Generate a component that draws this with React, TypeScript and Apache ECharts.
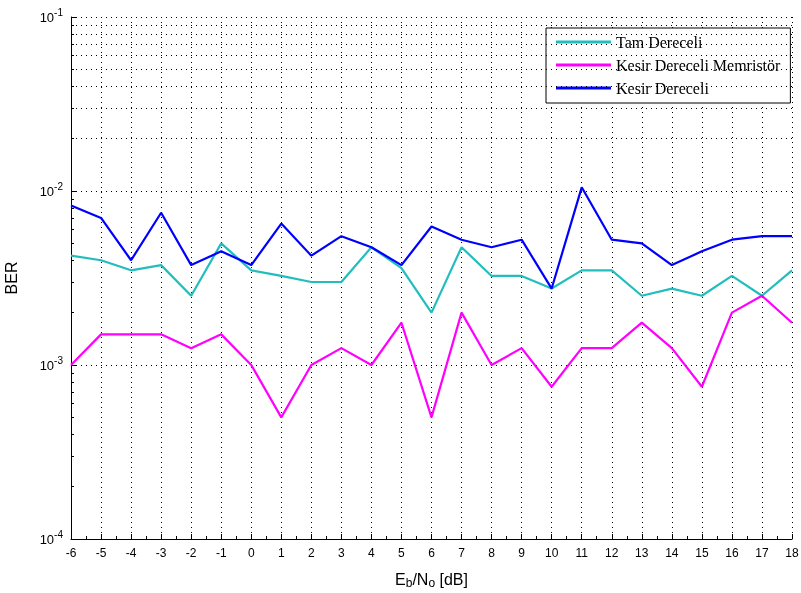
import React, { useEffect, useRef } from "react";
import * as echarts from "echarts";

const ebno = [-6, -5, -4, -3, -2, -1, 0, 1, 2, 3, 4, 5, 6, 7, 8, 9, 10, 11, 12, 13, 14, 15, 16, 17, 18];
const tamDereceli = [0.00425, 0.004, 0.0035, 0.00375, 0.0025, 0.005, 0.0035, 0.00325, 0.003, 0.003, 0.00475, 0.0036, 0.002, 0.00475, 0.00325, 0.00325, 0.00275, 0.0035, 0.0035, 0.0025, 0.00275, 0.0025, 0.00325, 0.0025, 0.0035];
const kesirMemristor = [0.001, 0.0015, 0.0015, 0.0015, 0.00125, 0.0015, 0.001, 0.0005, 0.001, 0.00125, 0.001, 0.00175, 0.0005, 0.002, 0.001, 0.00125, 0.00075, 0.00125, 0.00125, 0.00175, 0.00125, 0.00075, 0.002, 0.0025, 0.00175];
const kesirDereceli = [0.00825, 0.007, 0.004, 0.0075, 0.00375, 0.0045, 0.00375, 0.0065, 0.00425, 0.0055, 0.00475, 0.00375, 0.00625, 0.00525, 0.00475, 0.00525, 0.00275, 0.0105, 0.00525, 0.005, 0.00375, 0.0045, 0.00525, 0.0055, 0.0055];
const seriesNames = ["Tam Dereceli", "Kesir Dereceli Memristör", "Kesir Dereceli"];
const seriesColors = ["#22BEBE", "#FF00FF", "#0000FF"];
const decades = [1e-4, 1e-3, 1e-2, 1e-1];
const minorMultipliers = [2, 3, 4, 5, 6, 7, 8, 9];

export default function App() {
  const ref = useRef<HTMLDivElement>(null);
  useEffect(() => {
    if (!ref.current) return;
    const chart = echarts.init(ref.current, undefined, { renderer: "svg" });
    const minors: number[] = [];
    decades.slice(0, -1).forEach((d) => minorMultipliers.forEach((m) => minors.push(+(d * m).toPrecision(3))));
    const dotted = { type: [1, 4] as number[], color: "#000", width: 1 };
    const gridLines = minors.map((v) => ({ yAxis: v }));
    const minorTicks = minors.map((v) => [
      { coord: [ebno[0], v], lineStyle: { type: "solid", color: "#000", width: 1 } },
      { coord: [ebno[0] + 0.1, v] },
    ]);
    const datas = [tamDereceli, kesirMemristor, kesirDereceli];
    const series: any[] = datas.map((d, i) => ({
      name: seriesNames[i],
      type: "line",
      data: ebno.map((x, j) => [x, d[j]]),
      symbol: "none",
      lineStyle: { color: seriesColors[i], width: 2.2 },
      itemStyle: { color: seriesColors[i] },
      z: 3,
    }));
    series.unshift({
      name: "grid",
      type: "line",
      data: [],
      silent: true,
      z: 1,
      markLine: {
        silent: true,
        symbol: ["none", "none"],
        label: { show: false },
        animation: false,
        lineStyle: dotted,
        data: [...gridLines, ...minorTicks],
      },
    });
    chart.setOption({
      animation: false,
      grid: { left: 71, right: 9, top: 17, bottom: 54, containLabel: false, outerBoundsMode: "none" },
      legend: {
        data: seriesNames.map((n) => ({ name: n, icon: "rect" })),
        orient: "vertical",
        left: 546,
        top: 28,
        padding: [6, 10, 7, 10],
        itemGap: 7,
        itemWidth: 55,
        itemHeight: 3,
        backgroundColor: "#fff",
        borderColor: "#000",
        borderWidth: 1,
        borderRadius: 0,
        textStyle: { fontFamily: "Liberation Serif", fontSize: 16, color: "#000" },
      },
      xAxis: {
        type: "value",
        min: -6,
        max: 18,
        interval: 1,
        name: "E{sub|b}/N{sub|o} [dB]",
        nameLocation: "middle",
        nameGap: 30,
        nameTextStyle: {
          fontFamily: "Liberation Sans",
          fontSize: 16,
          color: "#000",
          rich: { sub: { fontFamily: "Liberation Sans", fontSize: 12, color: "#000", padding: [8, 0, 0, 0] } },
        },
        axisLine: { lineStyle: { color: "#000", width: 1 } },
        axisTick: { inside: true, length: 5, lineStyle: { color: "#000" } },
        minorTick: { show: true, splitNumber: 2, length: 3, lineStyle: { color: "#000" } },
        axisLabel: { fontFamily: "Liberation Sans", fontSize: 12, color: "#000", margin: 8 },
        splitLine: { show: true, lineStyle: dotted },
      },
      yAxis: {
        type: "log",
        logBase: 10,
        min: 1e-4,
        max: 1e-1,
        name: "BER",
        nameLocation: "middle",
        nameGap: 52,
        nameTextStyle: { fontFamily: "Liberation Sans", fontSize: 16, color: "#000" },
        axisLine: { show: true, onZero: false, lineStyle: { color: "#000", width: 1 } },
        axisTick: { inside: true, length: 5, lineStyle: { color: "#000" } },
        axisLabel: {
          margin: 8,
          formatter: (v: number) => `{b|10}{s|${Math.round(Math.log10(v))}}`,
          rich: {
            b: { fontFamily: "Liberation Sans", fontSize: 13, color: "#000" },
            s: { fontFamily: "Liberation Sans", fontSize: 10, color: "#000", padding: [0, 0, 9, 0] },
          },
        },
        splitLine: { show: true, lineStyle: dotted },
      },
      series,
    });
    return () => chart.dispose();
  }, []);
  return <div ref={ref} style={{ position: "fixed", left: 0, top: 0, width: 801, height: 593 }} />;
}
